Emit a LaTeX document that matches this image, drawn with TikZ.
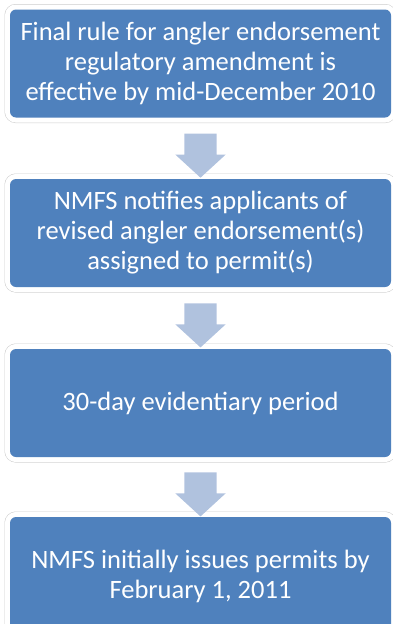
\documentclass[tikz,border=0pt]{standalone}
\usepackage{fontspec}
\setmainfont{Carlito}
\usetikzlibrary{shapes.arrows}
\definecolor{stepblue}{RGB}{79,129,189}
\definecolor{arrowblue}{RGB}{176,194,222}
\definecolor{framegray}{RGB}{205,205,205}
\tikzset{
  stepbox/.style={fill=stepblue, rounded corners=6pt, minimum width=381pt, minimum height=108pt,
    text=white, align=center, inner sep=0pt, font=\fontsize{26.5}{30}\selectfont,
    preaction={draw=framegray, line width=11pt}, preaction={draw=white, line width=10pt}},
  downarrow/.style={single arrow, fill=arrowblue, rotate=-90, inner xsep=0pt, inner ysep=16pt,
    minimum height=44pt, single arrow head extend=9pt, single arrow tip angle=95}
}
\begin{document}
\begin{tikzpicture}[x=1pt,y=-1pt]
      \useasboundingbox (0,0) rectangle (393,624);
      \node[stepbox] (rule) at (200.5,63.5) {Final rule for angler endorsement\\regulatory amendment is\\effective by mid-December 2010};
      \node[stepbox] (notify) at (200.5,233) {NMFS notifies applicants of\\revised angler endorsement(s)\\assigned to permit(s)};
      \node[stepbox] (period) at (200.5,403) {30-day evidentiary period};
      \node[stepbox, minimum height=118pt] (issue) at (200.5,576) {NMFS initially issues permits by\\February 1, 2011};
      \path (rule.south) -- node[downarrow]{} (notify.north);
      \path (notify.south) -- node[downarrow]{} (period.north);
      \path (period.south) -- node[downarrow]{} (issue.north);
    \end{tikzpicture}
\end{document}
